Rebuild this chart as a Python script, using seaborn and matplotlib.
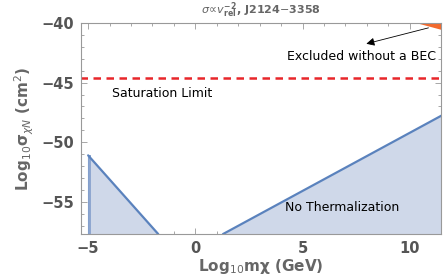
import numpy as np
import pandas as pd
import seaborn as sns
import matplotlib.pyplot as plt

# boundary of excluded (no thermalization) regions, log10 units
left_x = [-5.0, -5.0, -1.73]
left_y = [-57.7, -51.1, -57.7]
right_x = [1.29, 11.5]
right_y = [-57.7, -47.75]
sat_x = [-5.4, 11.5]
sat_y = [-44.6, -44.6]
bec_x = [10.3, 11.5, 11.5]
bec_y = [-40.0, -40.0, -40.6]

xlim = (-5.33, 11.45)
ylim = (-57.7, -40.0)

sns.set_style("ticks")
plt.rcParams["font.family"] = ["DejaVu Sans"]

fig, ax = plt.subplots(figsize=(4.43, 2.77), dpi=100)
fig.subplots_adjust(left=0.183, right=0.995, top=0.917, bottom=0.155)

fill_c = "#cfd8e9"
edge_c = "#5a82bd"

# left triangle
ax.fill_between(left_x[1:], left_y[1:], ylim[0], color=fill_c, lw=0)
sns.lineplot(x=left_x[1:], y=left_y[1:], ax=ax, color=edge_c, lw=1.6, sort=False)
ax.fill_betweenx([ylim[0], left_y[1]], left_x[0], left_x[0] + 0.12, color="#8fa7d0", lw=0)
sns.lineplot(x=[left_x[0], left_x[0]], y=[ylim[0], left_y[1]], ax=ax,
             color=edge_c, lw=1.6, sort=False)

# right region
ax.fill_between(right_x, right_y, ylim[0], color=fill_c, lw=0)
sns.lineplot(x=right_x, y=right_y, ax=ax, color=edge_c, lw=1.6, sort=False)

# saturation limit
sns.lineplot(x=sat_x, y=sat_y, ax=ax, color="#e8262a", lw=1.8,
             linestyle=(0, (3, 2.2)))

# BEC exclusion
ax.fill(bec_x, bec_y, color="#f26a2e", lw=0)
ax.annotate("", xy=(7.85, -41.8), xytext=(11.0, -40.35),
            arrowprops=dict(arrowstyle="-|>", color="black", lw=0.6,
                            mutation_scale=12))

txt = dict(fontsize=9, color="black", ha="center", va="center")
ax.text(7.75, -42.85, "Excluded without a BEC", **txt)
ax.text(-1.55, -45.9, "Saturation Limit", **txt)
ax.text(6.85, -55.5, "No Thermalization", **txt)

ax.set_xlim(xlim)
ax.set_ylim(ylim)
ax.set_xticks([-5, 0, 5, 10])
ax.set_yticks([-40, -45, -50, -55])
ax.set_xticks(np.arange(-5, 12, 1), minor=True)
ax.set_yticks(np.arange(-57, -39, 1), minor=True)
ax.tick_params(which="both", direction="in", top=True, right=True,
               color="#999999", width=0.6)
ax.tick_params(which="major", length=4, labelsize=10.5, labelcolor="#555555", pad=5)
ax.tick_params(which="minor", length=2)
for lab in ax.get_xticklabels() + ax.get_yticklabels():
    lab.set_fontweight("bold")
for s in ax.spines.values():
    s.set_color("#999999")
    s.set_linewidth(0.8)

ax.set_xlabel(r"Log$_{10}$mχ (GeV)", fontsize=11, color="#666666",
              fontweight="bold", labelpad=1)
ax.set_ylabel(r"Log$_{10}$σ$_{\chi N}$ (cm$^2$)", fontsize=11, color="#666666",
              fontweight="bold", labelpad=4)
ax.set_title(r"$\sigma\!\propto\!v_{\mathbf{rel}}^{\mathbf{-2}}$, J2124$-$3358",
             fontsize=8, color="#666666", fontweight="bold", pad=7)

fig.savefig("out.png", dpi=100)
